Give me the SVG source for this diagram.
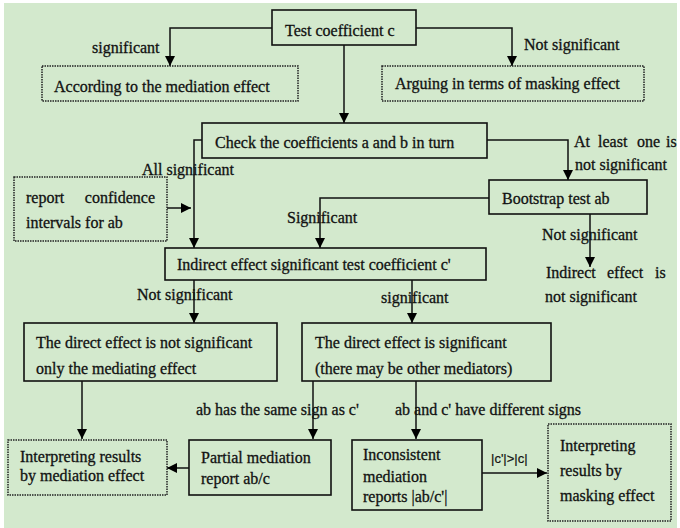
<svg xmlns="http://www.w3.org/2000/svg" width="680" height="528" viewBox="0 0 680 528">
<defs>
<marker id="ah" viewBox="0 0 10 10" refX="10" refY="5" markerWidth="10" markerHeight="10" markerUnits="userSpaceOnUse" orient="auto">
<path d="M0,0 L10,5 L0,10 Z" fill="#000"/>
</marker>
<style>
text{font-family:"Liberation Serif","Times New Roman",serif;font-size:16px;fill:#111;stroke:#111;stroke-width:0.3;}
.box{fill:none;stroke:#111;stroke-width:1.6;}
.dbox{fill:none;stroke:#222;stroke-width:1.5;stroke-dasharray:1.5 1;}
.ar{fill:none;stroke:#111;stroke-width:1.5;marker-end:url(#ah);}
.sm{font-family:"Liberation Sans",Arial,sans-serif;font-size:13px;stroke-width:0.2;}
.e{text-anchor:end;}
</style>
</defs>
<rect x="0" y="0" width="680" height="528" fill="#ffffff"/>
<rect x="4" y="3" width="673" height="525" fill="#d3e9cd"/>

<g id="connectors">
<polyline class="ar" points="272,28 170,28 170,66"/>
<polyline class="ar" points="416,28 512,28 512,66"/>
<polyline class="ar" points="344,45 344,123"/>
<polyline class="ar" points="202,140 194,140 194,248"/>
<polyline class="ar" points="487,140 568,140 568,180"/>
<polyline class="ar" points="167,208 191,208"/>
<polyline class="ar" points="489,198 320,198 320,248"/>
<polyline class="ar" points="590,214 590,267"/>
<polyline class="ar" points="194,280 194,323"/>
<polyline class="ar" points="412,280 412,323"/>
<polyline class="ar" points="82,381 82,439"/>
<polyline class="ar" points="313,381 313,439"/>
<polyline class="ar" points="416,381 416,439"/>
<polyline class="ar" points="189,468 167,468"/>
<polyline class="ar" points="482,473 547,473"/>
<text x="92" y="53">significant</text>
<text x="524" y="50">Not significant</text>
<text x="142" y="175">All significant</text>
<text><tspan x="574" y="147">At</tspan><tspan x="598" y="147">least</tspan><tspan x="637" y="147">one</tspan><tspan x="666" y="147">is</tspan></text>
<text x="575" y="170">not significant</text>
<text x="287" y="223">Significant</text>
<text x="542" y="240">Not significant</text>
<text x="137" y="300">Not significant</text>
<text x="381" y="303">significant</text>
<text x="196" y="415">ab has the same sign as c'</text>
<text x="395" y="415">ab and c' have different signs</text>
<text class="sm" x="491" y="463">|c'|&gt;|c|</text>
</g>

<g id="n-test">
<rect class="box" x="272" y="10" width="144" height="35"/>
<text x="285" y="36">Test coefficient c</text>
</g>
<g id="n-mediation">
<rect class="dbox" x="42" y="66" width="256" height="35"/>
<text x="54" y="92">According to the mediation effect</text>
</g>
<g id="n-masking">
<rect class="dbox" x="382" y="66" width="262" height="35"/>
<text x="395" y="89">Arguing in terms of masking effect</text>
</g>
<g id="n-check">
<rect class="box" x="202" y="123" width="285" height="35"/>
<text x="215" y="148">Check the coefficients a and b in turn</text>
</g>
<g id="n-confidence">
<rect class="dbox" x="14" y="177" width="153" height="64"/>
<text x="26" y="203">report</text>
<text class="e" x="155" y="203">confidence</text>
<text x="26" y="228">intervals for ab</text>
</g>
<g id="n-bootstrap">
<rect class="box" x="489" y="180" width="158" height="34"/>
<text x="502" y="204">Bootstrap test ab</text>
</g>
<g id="n-notsig">
<text><tspan x="546" y="278">Indirect</tspan><tspan x="607" y="278">effect</tspan><tspan x="655" y="278">is</tspan></text>
<text x="545" y="302">not significant</text>
</g>
<g id="n-indirect">
<rect class="box" x="165" y="248" width="321" height="32"/>
<text x="177" y="270">Indirect effect significant test coefficient c'</text>
</g>
<g id="n-direct-not">
<rect class="box" x="24" y="323" width="253" height="58"/>
<text x="36" y="348">The direct effect is not significant</text>
<text x="36" y="374">only the mediating effect</text>
</g>
<g id="n-direct-sig">
<rect class="box" x="302" y="323" width="249" height="58"/>
<text x="315" y="348">The direct effect is  significant</text>
<text x="315" y="374">(there may be other mediators)</text>
</g>
<g id="n-interp-med">
<rect class="dbox" x="8" y="440" width="159" height="55"/>
<text x="20" y="462">Interpreting results</text>
<text x="20" y="481">by mediation effect</text>
</g>
<g id="n-partial">
<rect class="box" x="189" y="440" width="142" height="55"/>
<text x="201" y="463">Partial mediation</text>
<text x="201" y="484">report ab/c</text>
</g>
<g id="n-inconsistent">
<rect class="box" x="352" y="440" width="130" height="70"/>
<text x="363" y="460">Inconsistent</text>
<text x="363" y="482">mediation</text>
<text x="363" y="502">reports |ab/c'|</text>
</g>
<g id="n-interp-mask">
<rect class="dbox" x="548" y="424" width="123" height="97"/>
<text x="560" y="451">Interpreting</text>
<text x="560" y="476">results by</text>
<text x="560" y="501">masking effect</text>
</g>
</svg>
